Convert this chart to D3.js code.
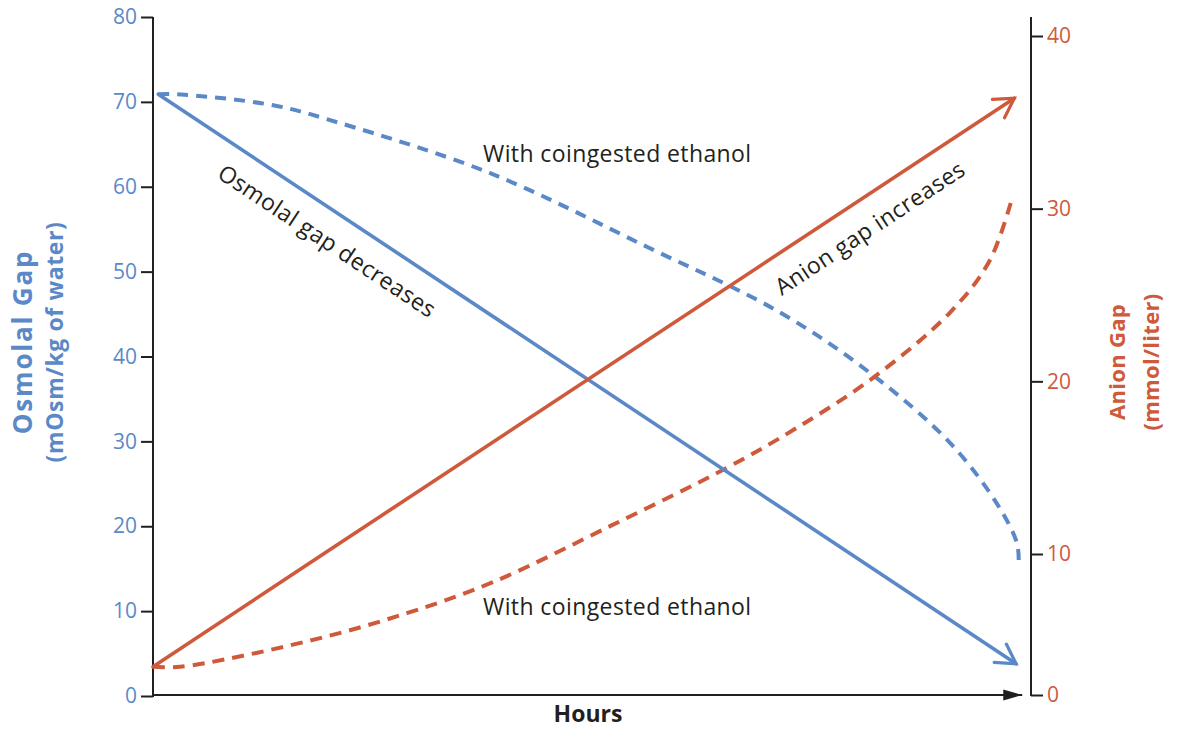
<!DOCTYPE html>
<html>
<head>
<meta charset="utf-8">
<script src="https://cdn.jsdelivr.net/npm/d3@7"></script>
<style>
  html, body { margin: 0; padding: 0; background: #ffffff; }
  svg { display: block; }
  text { font-family: "Open Sans", "Lato", sans-serif; }
</style>
</head>
<body>
<svg id="chart" width="1179" height="730"></svg>
<script>
// ---- Data ----
const hoursDomain = [0, 10];
const osmolalTicks = [0, 10, 20, 30, 40, 50, 60, 70, 80];
const anionTicks = [0, 10, 20, 30, 40];

// Osmolal gap (left axis, mOsm/kg of water)
const osmolalHours = [0.06, 9.83];
const osmolalGap = [70.9, 3.8];
const osmolalEthanolHours = [0.06, 0.27, 1.37, 2.13, 3.84, 5.63, 7.14, 8.20, 9.08, 9.61, 9.84, 9.86];
const osmolalEthanolGap = [70.9, 70.9, 69.6, 67.5, 61.6, 52.9, 45.2, 37.8, 29.8, 22.7, 18.0, 15.8];

// Anion gap (right axis, mmol/liter)
const anionHours = [0, 1.94, 9.81];
const anionGap = [2.0, 10, 36.4];
const anionEthanolHours = [0, 0.31, 1.75, 2.89, 3.87, 5.24, 6.54, 7.33, 8.20, 9.08, 9.53, 9.79];
const anionEthanolGap = [2.0, 2.0, 3.8, 5.8, 8.0, 11.7, 15.0, 17.3, 20.2, 24.0, 27.0, 30.7];

const labels = {
  left: ["Osmolal Gap", "(mOsm/kg of water)"],
  right: ["Anion Gap", "(mmol/liter)"],
  x: "Hours",
  osmDec: "Osmolal gap decreases",
  anInc: "Anion gap increases",
  eth: "With coingested ethanol"
};

// ---- Styles ----
const BLUE = "#5b89c8";
const RED = "#cf5a3b";
const INK = "#231f20";

const svg = d3.select("#chart");

const x = d3.scaleLinear().domain(hoursDomain).range([153, 1031]);
const yL = d3.scaleLinear().domain([0, 80]).range([696, 17]);
// right axis is drawn schematically: 0 sits on the baseline, 10..40 evenly spaced
const yR = d3.scaleLinear().domain([0, 10, 40]).range([695, 554, 36]);

const zip = (a, b) => a.map((v, i) => [v, b[i]]);

// defs: markers
const defs = svg.append("defs");
function chevron(id, color) {
  defs.append("marker")
    .attr("id", id)
    .attr("markerUnits", "userSpaceOnUse")
    .attr("viewBox", "-24 -14 28 28")
    .attr("refX", 0).attr("refY", 0)
    .attr("markerWidth", 28).attr("markerHeight", 28)
    .attr("orient", "auto")
    .append("path")
    .attr("d", "M-19,-11 L0,0 L-19,11")
    .attr("fill", "none")
    .attr("stroke", color)
    .attr("stroke-width", 3.2)
    .attr("stroke-linecap", "round")
    .attr("stroke-linejoin", "miter");
}
chevron("arrBlue", BLUE);
chevron("arrRed", RED);
defs.append("marker")
  .attr("id", "arrAxis")
  .attr("markerUnits", "userSpaceOnUse")
  .attr("viewBox", "-20 -6 22 12")
  .attr("refX", 0).attr("refY", 0)
  .attr("markerWidth", 22).attr("markerHeight", 12)
  .attr("orient", "auto")
  .append("path")
  .attr("d", "M-19,-5.5 L0,0 L-19,5.5 Z")
  .attr("fill", INK);

// ---- Axes ----
const leftAxis = d3.axisLeft(yL).tickValues(osmolalTicks).tickSize(12).tickPadding(4).tickSizeOuter(0);
const gL = svg.append("g").attr("transform", `translate(${x(0)},0)`).call(leftAxis);
gL.select(".domain").remove();
gL.selectAll(".tick line").attr("stroke", INK).attr("stroke-width", 2);
gL.selectAll(".tick text").attr("fill", BLUE).attr("font-size", 21).attr("font-family", "Open Sans");

svg.append("line")
  .attr("x1", x(0)).attr("x2", x(0))
  .attr("y1", yL(80)).attr("y2", yL(0) + 1)
  .attr("stroke", INK).attr("stroke-width", 2);

const rightAxis = d3.axisRight(yR).tickValues(anionTicks).tickSize(12).tickPadding(4).tickSizeOuter(0);
const gR = svg.append("g").attr("transform", `translate(${x(10)},0)`).call(rightAxis);
gR.select(".domain").remove();
gR.selectAll(".tick line").attr("stroke", INK).attr("stroke-width", 2);
gR.selectAll(".tick text").attr("fill", RED).attr("font-size", 21).attr("font-family", "Open Sans");

svg.append("line")
  .attr("x1", x(10)).attr("x2", x(10))
  .attr("y1", 17).attr("y2", yR(0) + 1)
  .attr("stroke", INK).attr("stroke-width", 2);

// x axis with arrow
svg.append("line")
  .attr("x1", x(0) - 1).attr("x2", x(9.9))
  .attr("y1", yR(0)).attr("y2", yR(0))
  .attr("stroke", INK).attr("stroke-width", 2.2)
  .attr("marker-end", "url(#arrAxis)");

// ---- Lines ----
const lineL = d3.line().x(d => x(d[0])).y(d => yL(d[1]));
const lineR = d3.line().x(d => x(d[0])).y(d => yR(d[1]));
const curveL = d3.line().x(d => x(d[0])).y(d => yL(d[1])).curve(d3.curveCatmullRom.alpha(0.5));
const curveR = d3.line().x(d => x(d[0])).y(d => yR(d[1])).curve(d3.curveCatmullRom.alpha(0.5));

svg.append("path")
  .attr("d", curveL(zip(osmolalEthanolHours, osmolalEthanolGap)))
  .attr("fill", "none").attr("stroke", BLUE).attr("stroke-width", 4)
  .attr("stroke-dasharray", "11,8");

svg.append("path")
  .attr("d", curveR(zip(anionEthanolHours, anionEthanolGap)))
  .attr("fill", "none").attr("stroke", RED).attr("stroke-width", 4)
  .attr("stroke-dasharray", "12,8");

svg.append("path")
  .attr("d", lineL(zip(osmolalHours, osmolalGap)))
  .attr("fill", "none").attr("stroke", BLUE).attr("stroke-width", 3.6)
  .attr("stroke-linecap", "round")
  .attr("marker-end", "url(#arrBlue)");

svg.append("path")
  .attr("d", lineR(zip(anionHours, anionGap)))
  .attr("fill", "none").attr("stroke", RED).attr("stroke-width", 3.6)
  .attr("stroke-linecap", "round")
  .attr("marker-end", "url(#arrRed)");

// ---- Annotations ----
const annFont = 23;
const annSpacing = 0.4;
function rotText(txt, cx, cy, angle) {
  svg.append("text")
    .attr("transform", `translate(${cx},${cy}) rotate(${angle})`)
    .attr("text-anchor", "middle")
    .attr("dy", "0.35em")
    .attr("font-size", annFont)
    .attr("letter-spacing", annSpacing)
    .attr("fill", INK)
    .text(txt);
}
rotText(labels.osmDec, 327, 241, 33.6);
rotText(labels.anInc, 870, 228, -33.5);

svg.append("text").attr("x", 483).attr("y", 162)
  .attr("font-size", annFont).attr("letter-spacing", annSpacing)
  .attr("fill", INK).text(labels.eth);
svg.append("text").attr("x", 483).attr("y", 615)
  .attr("font-size", annFont).attr("letter-spacing", annSpacing)
  .attr("fill", INK).text(labels.eth);

// ---- Axis titles ----
function vTitle(specs, cx, cy, color) {
  const t = svg.append("text")
    .attr("transform", `translate(${cx},${cy}) rotate(-90)`)
    .attr("text-anchor", "middle")
    .attr("font-weight", "bold")
    .attr("fill", color);
  specs.forEach(s => {
    t.append("tspan").attr("x", 0).attr("y", s.dy)
      .attr("font-size", s.size).attr("letter-spacing", s.ls)
      .text(s.text);
  });
}
vTitle([
  { text: labels.left[0], dy: 0, size: 26, ls: 1.8 },
  { text: labels.left[1], dy: 31, size: 23, ls: 0.6 }
], 32, 342, BLUE);
vTitle([
  { text: labels.right[0], dy: 0, size: 22, ls: 0.3 },
  { text: labels.right[1], dy: 34, size: 22, ls: 0.3 }
], 1125, 362, RED);

svg.append("text")
  .attr("x", 588).attr("y", 722)
  .attr("text-anchor", "middle")
  .attr("font-size", 23).attr("font-weight", "bold")
  .attr("fill", INK)
  .text(labels.x);
</script>
</body>
</html>
